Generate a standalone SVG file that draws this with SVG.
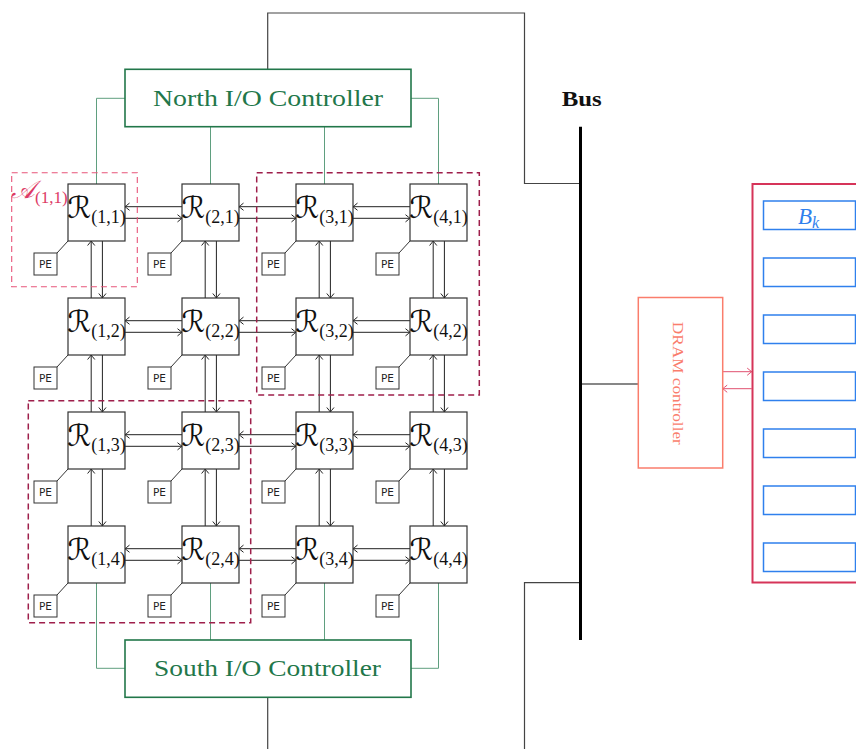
<svg xmlns="http://www.w3.org/2000/svg" width="856" height="749" viewBox="0 0 856 749">
<style>
.rt{fill:#fff;stroke:#333;stroke-width:1.2}
.pe{fill:#fff;stroke:#333;stroke-width:1}
.pel{stroke:#333;stroke-width:1;fill:none}
.pet{font-family:"DejaVu Sans",sans-serif;font-size:10.5px;fill:#222;text-anchor:middle}
.rl{font-family:"DejaVu Sans",sans-serif;font-size:30px;fill:#111;text-anchor:middle}
.sub{font-family:"Liberation Serif",serif;font-size:18px}
.ar{stroke:#222;stroke-width:1;fill:none;marker-end:url(#ah)}
.gl{stroke:#5f9f7f;stroke-width:1;fill:none}
.io{fill:#fff;stroke:#22774a;stroke-width:1.6}
.iot{font-family:"Liberation Serif",serif;font-size:24px;fill:#22774a;text-anchor:middle}
.wire{stroke:#444;stroke-width:1.2;fill:none}
.blue{fill:#fff;stroke:#2f80ed;stroke-width:1.5}
</style>
<defs>
<marker id="ah" viewBox="-6 -5 8 10" markerWidth="8" markerHeight="10" refX="0" refY="0" orient="auto" markerUnits="userSpaceOnUse">
<path d="M-4.5,-3.6 Q-1.2,-0.9 0,0 Q-1.2,0.9 -4.5,3.6" fill="none" stroke="#222" stroke-width="1"/>
</marker>
<marker id="ahp" viewBox="-6 -5 8 10" markerWidth="8" markerHeight="10" refX="0" refY="0" orient="auto" markerUnits="userSpaceOnUse">
<path d="M-4.5,-3.6 Q-1.2,-0.9 0,0 Q-1.2,0.9 -4.5,3.6" fill="none" stroke="#e0506f" stroke-width="1"/>
</marker>
</defs>

<!-- wires to bus -->
<g id="wires">
<path class="wire" d="M267.7,69.3 V13 H524.5 V183.5 H581"/>
<path class="wire" d="M267.7,697 V749"/>
<path class="wire" d="M581,582.7 H524.5 V749"/>
<path d="M581,384 H638.3" stroke="#111" stroke-width="1.1" fill="none"/>
</g>

<!-- green IO connectors -->
<g id="io-connectors">
<path class="gl" d="M125,98.3 H96.5 V184"/>
<path class="gl" d="M411,98.3 H438.5 V184"/>
<path class="gl" d="M210.5,126.7 V184"/>
<path class="gl" d="M324.5,126.7 V184"/>
<path class="gl" d="M125,668.3 H96.5 V583"/>
<path class="gl" d="M411,668.3 H438.5 V583"/>
<path class="gl" d="M210.5,640 V583"/>
<path class="gl" d="M324.5,640 V583"/>
</g>

<!-- router connectors -->
<g id="connectors">
<path class="ar" d="M182,206.7 H125"/><path class="ar" d="M125,218.3 H182"/>
<path class="ar" d="M296,206.7 H239"/><path class="ar" d="M239,218.3 H296"/>
<path class="ar" d="M410,206.7 H353"/><path class="ar" d="M353,218.3 H410"/>
<path class="ar" d="M182,320.7 H125"/><path class="ar" d="M125,332.3 H182"/>
<path class="ar" d="M296,320.7 H239"/><path class="ar" d="M239,332.3 H296"/>
<path class="ar" d="M410,320.7 H353"/><path class="ar" d="M353,332.3 H410"/>
<path class="ar" d="M182,434.7 H125"/><path class="ar" d="M125,446.3 H182"/>
<path class="ar" d="M296,434.7 H239"/><path class="ar" d="M239,446.3 H296"/>
<path class="ar" d="M410,434.7 H353"/><path class="ar" d="M353,446.3 H410"/>
<path class="ar" d="M182,548.7 H125"/><path class="ar" d="M125,560.3 H182"/>
<path class="ar" d="M296,548.7 H239"/><path class="ar" d="M239,560.3 H296"/>
<path class="ar" d="M410,548.7 H353"/><path class="ar" d="M353,560.3 H410"/>
<path class="ar" d="M91.2,298 V241"/><path class="ar" d="M102.4,241 V298"/>
<path class="ar" d="M91.2,412 V355"/><path class="ar" d="M102.4,355 V412"/>
<path class="ar" d="M91.2,526 V469"/><path class="ar" d="M102.4,469 V526"/>
<path class="ar" d="M205.2,298 V241"/><path class="ar" d="M216.4,241 V298"/>
<path class="ar" d="M205.2,412 V355"/><path class="ar" d="M216.4,355 V412"/>
<path class="ar" d="M205.2,526 V469"/><path class="ar" d="M216.4,469 V526"/>
<path class="ar" d="M319.2,298 V241"/><path class="ar" d="M330.4,241 V298"/>
<path class="ar" d="M319.2,412 V355"/><path class="ar" d="M330.4,355 V412"/>
<path class="ar" d="M319.2,526 V469"/><path class="ar" d="M330.4,469 V526"/>
<path class="ar" d="M433.2,298 V241"/><path class="ar" d="M444.4,241 V298"/>
<path class="ar" d="M433.2,412 V355"/><path class="ar" d="M444.4,355 V412"/>
<path class="ar" d="M433.2,526 V469"/><path class="ar" d="M444.4,469 V526"/>
<path d="M722.7,371.7 H751.7" stroke="#e0506f" stroke-width="1" fill="none" marker-end="url(#ahp)"/>
<path d="M751.7,388.7 H722.7" stroke="#e0506f" stroke-width="1" fill="none" marker-end="url(#ahp)"/>
</g>

<!-- routers -->
<g id="R11"><rect class="rt" x="68" y="184" width="57" height="57"/><path class="pel" d="M57,253 L68,241"/><rect class="pe" x="34" y="253" width="23" height="22"/><text class="pet" x="45.5" y="268">PE</text><text class="rl" x="96.5" y="218">ℛ<tspan class="sub" dy="5">(1,1)</tspan></text></g>
<g id="R21"><rect class="rt" x="182" y="184" width="57" height="57"/><path class="pel" d="M171,253 L182,241"/><rect class="pe" x="148" y="253" width="23" height="22"/><text class="pet" x="159.5" y="268">PE</text><text class="rl" x="210.5" y="218">ℛ<tspan class="sub" dy="5">(2,1)</tspan></text></g>
<g id="R31"><rect class="rt" x="296" y="184" width="57" height="57"/><path class="pel" d="M285,253 L296,241"/><rect class="pe" x="262" y="253" width="23" height="22"/><text class="pet" x="273.5" y="268">PE</text><text class="rl" x="324.5" y="218">ℛ<tspan class="sub" dy="5">(3,1)</tspan></text></g>
<g id="R41"><rect class="rt" x="410" y="184" width="57" height="57"/><path class="pel" d="M399,253 L410,241"/><rect class="pe" x="376" y="253" width="23" height="22"/><text class="pet" x="387.5" y="268">PE</text><text class="rl" x="438.5" y="218">ℛ<tspan class="sub" dy="5">(4,1)</tspan></text></g>

<g id="R12"><rect class="rt" x="68" y="298" width="57" height="57"/><path class="pel" d="M57,367 L68,355"/><rect class="pe" x="34" y="367" width="23" height="22"/><text class="pet" x="45.5" y="382">PE</text><text class="rl" x="96.5" y="332">ℛ<tspan class="sub" dy="5">(1,2)</tspan></text></g>
<g id="R22"><rect class="rt" x="182" y="298" width="57" height="57"/><path class="pel" d="M171,367 L182,355"/><rect class="pe" x="148" y="367" width="23" height="22"/><text class="pet" x="159.5" y="382">PE</text><text class="rl" x="210.5" y="332">ℛ<tspan class="sub" dy="5">(2,2)</tspan></text></g>
<g id="R32"><rect class="rt" x="296" y="298" width="57" height="57"/><path class="pel" d="M285,367 L296,355"/><rect class="pe" x="262" y="367" width="23" height="22"/><text class="pet" x="273.5" y="382">PE</text><text class="rl" x="324.5" y="332">ℛ<tspan class="sub" dy="5">(3,2)</tspan></text></g>
<g id="R42"><rect class="rt" x="410" y="298" width="57" height="57"/><path class="pel" d="M399,367 L410,355"/><rect class="pe" x="376" y="367" width="23" height="22"/><text class="pet" x="387.5" y="382">PE</text><text class="rl" x="438.5" y="332">ℛ<tspan class="sub" dy="5">(4,2)</tspan></text></g>

<g id="R13"><rect class="rt" x="68" y="412" width="57" height="57"/><path class="pel" d="M57,481 L68,469"/><rect class="pe" x="34" y="481" width="23" height="22"/><text class="pet" x="45.5" y="496">PE</text><text class="rl" x="96.5" y="446">ℛ<tspan class="sub" dy="5">(1,3)</tspan></text></g>
<g id="R23"><rect class="rt" x="182" y="412" width="57" height="57"/><path class="pel" d="M171,481 L182,469"/><rect class="pe" x="148" y="481" width="23" height="22"/><text class="pet" x="159.5" y="496">PE</text><text class="rl" x="210.5" y="446">ℛ<tspan class="sub" dy="5">(2,3)</tspan></text></g>
<g id="R33"><rect class="rt" x="296" y="412" width="57" height="57"/><path class="pel" d="M285,481 L296,469"/><rect class="pe" x="262" y="481" width="23" height="22"/><text class="pet" x="273.5" y="496">PE</text><text class="rl" x="324.5" y="446">ℛ<tspan class="sub" dy="5">(3,3)</tspan></text></g>
<g id="R43"><rect class="rt" x="410" y="412" width="57" height="57"/><path class="pel" d="M399,481 L410,469"/><rect class="pe" x="376" y="481" width="23" height="22"/><text class="pet" x="387.5" y="496">PE</text><text class="rl" x="438.5" y="446">ℛ<tspan class="sub" dy="5">(4,3)</tspan></text></g>

<g id="R14"><rect class="rt" x="68" y="526" width="57" height="57"/><path class="pel" d="M57,595 L68,583"/><rect class="pe" x="34" y="595" width="23" height="22"/><text class="pet" x="45.5" y="610">PE</text><text class="rl" x="96.5" y="560">ℛ<tspan class="sub" dy="5">(1,4)</tspan></text></g>
<g id="R24"><rect class="rt" x="182" y="526" width="57" height="57"/><path class="pel" d="M171,595 L182,583"/><rect class="pe" x="148" y="595" width="23" height="22"/><text class="pet" x="159.5" y="610">PE</text><text class="rl" x="210.5" y="560">ℛ<tspan class="sub" dy="5">(2,4)</tspan></text></g>
<g id="R34"><rect class="rt" x="296" y="526" width="57" height="57"/><path class="pel" d="M285,595 L296,583"/><rect class="pe" x="262" y="595" width="23" height="22"/><text class="pet" x="273.5" y="610">PE</text><text class="rl" x="324.5" y="560">ℛ<tspan class="sub" dy="5">(3,4)</tspan></text></g>
<g id="R44"><rect class="rt" x="410" y="526" width="57" height="57"/><path class="pel" d="M399,595 L410,583"/><rect class="pe" x="376" y="595" width="23" height="22"/><text class="pet" x="387.5" y="610">PE</text><text class="rl" x="438.5" y="560">ℛ<tspan class="sub" dy="5">(4,4)</tspan></text></g>

<!-- dashed regions -->
<g id="A11">
<rect x="11.7" y="172.7" width="125.6" height="114" fill="none" stroke="#e8557a" stroke-width="1.1" stroke-dasharray="6,4"/>
<text x="11" y="198" font-family="DejaVu Serif, serif" font-style="italic" font-size="25" fill="#dd3b66">𝒜<tspan font-family="Liberation Serif, serif" font-style="normal" font-size="17" dy="5">(1,1)</tspan></text>
</g>
<g id="region2"><rect x="256.7" y="172.7" width="222.6" height="222.3" fill="none" stroke="#9e1f4b" stroke-width="1.5" stroke-dasharray="6,4"/></g>
<g id="region3"><rect x="28.3" y="400.7" width="222.4" height="222" fill="none" stroke="#9e1f4b" stroke-width="1.5" stroke-dasharray="6,4"/></g>

<!-- IO controllers -->
<g id="north"><rect class="io" x="125" y="69.3" width="286" height="57.4"/><text class="iot" x="268" y="106" textLength="230" lengthAdjust="spacingAndGlyphs">North I/O Controller</text></g>
<g id="south"><rect class="io" x="125" y="640" width="286" height="57.3"/><text class="iot" x="267.5" y="676" textLength="227" lengthAdjust="spacingAndGlyphs">South I/O Controller</text></g>

<!-- bus -->
<g id="bus">
<path d="M580.5,126.7 V640" stroke="#000" stroke-width="3" fill="none"/>
<text x="561.7" y="106" font-family="Liberation Serif, serif" font-weight="bold" font-size="20" fill="#111" textLength="40" lengthAdjust="spacingAndGlyphs">Bus</text>
</g>

<!-- DRAM controller -->
<g id="dram">
<rect x="638.3" y="297.5" width="84.4" height="170.5" fill="#fff" stroke="#fa7d6c" stroke-width="1.5"/>
<text transform="translate(673,383.3) rotate(90)" x="0" y="0" text-anchor="middle" font-family="Liberation Serif, serif" font-size="14.5" fill="#fa7d6c" textLength="123" lengthAdjust="spacingAndGlyphs">DRAM controller</text>
</g>

<!-- memory -->
<g id="memory">
<rect x="752.5" y="184" width="200" height="398.5" fill="none" stroke="#d63459" stroke-width="2"/>
<g id="banks">
<rect class="blue" x="763.5" y="201" width="92" height="28.5"/>
<rect class="blue" x="763.5" y="258" width="92" height="28.5"/>
<rect class="blue" x="763.5" y="315" width="92" height="28.5"/>
<rect class="blue" x="763.5" y="372" width="92" height="28.5"/>
<rect class="blue" x="763.5" y="429" width="92" height="28.5"/>
<rect class="blue" x="763.5" y="486" width="92" height="28.5"/>
<rect class="blue" x="763.5" y="543" width="92" height="28.5"/>
<text x="798" y="223.5" font-family="Liberation Serif, serif" font-style="italic" font-size="23" fill="#2f80ed">B<tspan font-size="16" dy="4">k</tspan></text>
</g>
</g>
</svg>
